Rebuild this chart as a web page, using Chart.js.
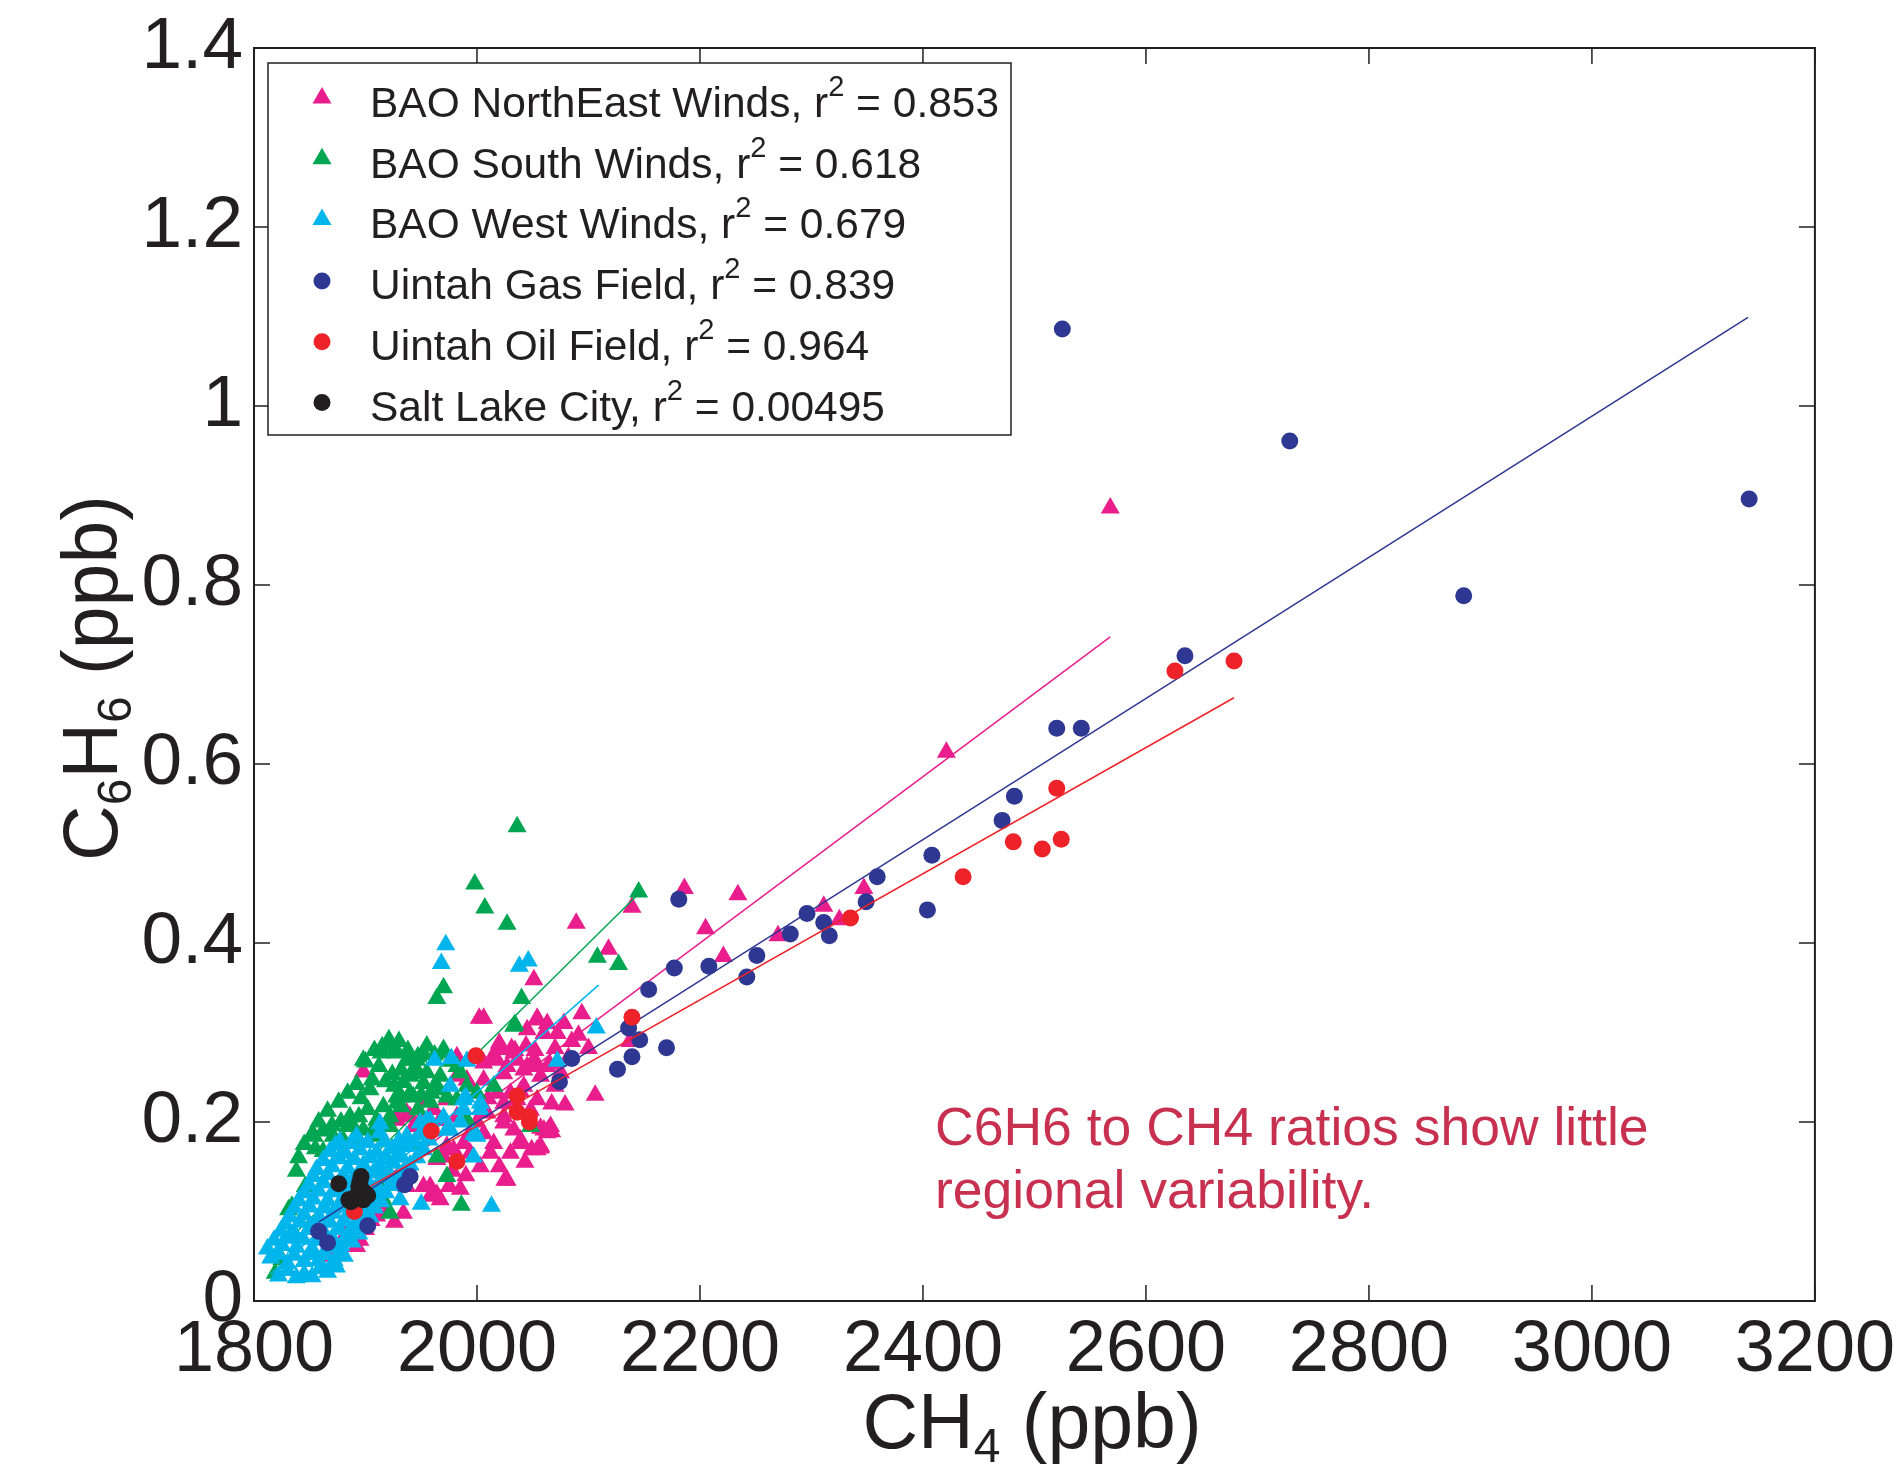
<!DOCTYPE html>
<html>
<head>
<meta charset="utf-8">
<script src="https://cdn.jsdelivr.net/npm/chart.js@4.4.1/dist/chart.umd.min.js"></script>
<style>
  html, body { margin: 0; padding: 0; background: #fff; }
  canvas { display: block; }
</style>
</head>
<body>
<canvas id="chart" width="1896" height="1468"></canvas>
<script>
// Benzene vs methane, one array of [CH4, C6H6] pairs per region (ppb).
const baoNorthEast = [
  [2568,0.886],[2421,0.613],[2186,0.461],[2234,0.454],[2205,0.416],[2270,0.408],[2221,0.385],[2311,0.441],[2347,0.461],[2325,0.426],
  [2139,0.440],[2118,0.393],[2089,0.422],[2051,0.359],[2002,0.316],[2006,0.316],[2054,0.316],[2063,0.310],[2094,0.321],[2091,0.297],
  [2100,0.282],[2137,0.290],[2052,0.280],[2034,0.280],[2020,0.288],[2016,0.271],[2055,0.262],[2079,0.219],[2106,0.230],[2067,0.189],
  [2064,0.191],[2039,0.176],[2057,0.171],[2025,0.135],[1964,0.119],
  [2021,0.281],[2033,0.277],[2018,0.269],[2027,0.262],[2042,0.258],[2051,0.269],[2057,0.251],[2006,0.266],[2006,0.247],[1994,0.240],
  [1982,0.273],[1961,0.214],[1973,0.225],[1967,0.202],[1982,0.206],[1952,0.225],[1940,0.206],[1928,0.206],[1988,0.176],[1979,0.169],
  [1994,0.165],[2006,0.187],[2015,0.176],[2024,0.199],[2033,0.191],[2049,0.169],[2057,0.173],[2060,0.191],[1952,0.128],[1958,0.128],
  [1937,0.128],[1916,0.109],[1895,0.068],[1892,0.061],[1898,0.256],[1964,0.158],[1970,0.161],[1982,0.251],[2030,0.232],[2036,0.225],
  [2054,0.225],[2066,0.195],[2045,0.303],[2054,0.314],[2060,0.299],[2072,0.299],[2015,0.275],[2031,0.282],[2036,0.269],[2045,0.262],
  [2063,0.262],[2024,0.254],[1991,0.247],[2018,0.232],[2024,0.221],[2009,0.210],[2063,0.188],[2054,0.169],[2039,0.180],[2024,0.206],
  [1994,0.188],[1973,0.173],[1949,0.202],[1943,0.195],[1937,0.210],[1928,0.202],[1970,0.202],[2027,0.135],[1880,0.070],[1874,0.060],
  [1905,0.090],[1920,0.100],[1868,0.050],[1884,0.081],[1934,0.098],[1958,0.117],[1967,0.113],[2065,0.265],[2067,0.220],[2039,0.234],
  [2057,0.193],[2010,0.226],[2042,0.240],[2048,0.213],[2070,0.240],[2075,0.255],[2082,0.272],[2070,0.282],[2078,0.310],[2085,0.290],
  [2044,0.285],[2000,0.200],[2012,0.165],[2003,0.150],[1990,0.140],[1978,0.145],[1985,0.125],[1975,0.128],[2043,0.155],[2030,0.165],
  [2020,0.150],[1900,0.080],[1910,0.095],[1926,0.088]
];
const baoSouth = [
  [2036,0.530],[1998,0.466],[2007,0.439],[2027,0.421],[1970,0.350],[1964,0.338],[2040,0.338],[2034,0.309],[2108,0.384],[2127,0.376],
  [2145,0.457],[1819,0.031],[1825,0.046],[1834,0.106],[1846,0.128],[1852,0.186],[1862,0.167],[1871,0.184],[1880,0.180],[1889,0.180],
  [1886,0.206],[1889,0.195],[1898,0.191],[1910,0.184],[1910,0.202],[1916,0.217],[1922,0.206],[1922,0.195],[1932,0.217],[1928,0.228],
  [1940,0.232],[1947,0.214],[1959,0.232],[1973,0.228],[1967,0.251],[1970,0.281],[1952,0.243],[1946,0.258],[1940,0.251],[1937,0.269],
  [1946,0.269],[1924,0.253],[1906,0.247],[1900,0.267],[1914,0.277],[1928,0.277],[1920,0.286],[1921,0.292],[1915,0.284],[1927,0.281],
  [1898,0.269],[1938,0.269],[1947,0.273],[1932,0.258],[1941,0.254],[1970,0.277],[1943,0.228],[1932,0.228],[1928,0.221],[1907,0.191],
  [1940,0.176],[1964,0.161],[1973,0.139],[1913,0.128],[1922,0.098],[1916,0.113],[1907,0.106],[1986,0.107],[1982,0.225],[1991,0.240],
  [2000,0.232],[2015,0.240],[1982,0.262],[1991,0.202],[2048,0.195],[2033,0.307],[1938,0.280],[1952,0.276],[1854,0.184],[1884,0.195],
  [1831,0.102],[1858,0.200],[1866,0.212],[1876,0.222],[1884,0.232],[1892,0.242],[1896,0.226],[1904,0.236],[1912,0.262],[1918,0.245],
  [1926,0.240],[1934,0.244],[1950,0.230],[1955,0.255],[1962,0.240],[1902,0.214],[1894,0.206],[1878,0.200],[1870,0.196],[1862,0.190],
  [1845,0.175],[1840,0.160],[1838,0.145],[1855,0.170],[1908,0.280],[1930,0.290],[1955,0.285],[1962,0.275],[1976,0.268],[1985,0.255],
  [1958,0.222],[1966,0.236]
];
const baoWest = [
  [1822,0.028],[1838,0.026],[1852,0.027],[1866,0.032],[1845,0.030],
  [1830,0.034],[1859,0.036],[1874,0.038],
  [1815,0.048],[1830,0.042],[1845,0.044],[1858,0.045],[1872,0.045],[1881,0.050],
  [1822,0.052],[1836,0.051],[1851,0.052],[1864,0.052],[1877,0.054],
  [1812,0.058],[1825,0.062],[1838,0.060],[1852,0.058],[1866,0.060],[1878,0.062],[1888,0.066],
  [1818,0.068],[1831,0.070],[1844,0.069],[1857,0.068],[1870,0.070],[1883,0.072],[1894,0.075],
  [1824,0.078],[1836,0.076],[1849,0.080],[1862,0.078],[1876,0.080],[1889,0.082],[1898,0.086],
  [1828,0.086],[1841,0.088],[1855,0.087],[1868,0.088],[1881,0.089],[1893,0.091],[1904,0.094],
  [1832,0.094],[1845,0.096],[1858,0.094],[1871,0.098],[1884,0.097],[1897,0.100],[1908,0.104],
  [1836,0.104],[1850,0.105],[1863,0.104],[1877,0.106],[1890,0.107],[1902,0.109],[1914,0.111],
  [1840,0.112],[1853,0.114],[1866,0.112],[1880,0.116],[1893,0.115],[1906,0.118],[1918,0.121],
  [1845,0.121],[1858,0.123],[1871,0.122],[1885,0.125],[1898,0.124],[1911,0.127],[1923,0.129],
  [1849,0.130],[1862,0.132],[1875,0.130],[1888,0.134],[1902,0.133],[1915,0.138],[1928,0.136],
  [1853,0.139],[1866,0.141],[1880,0.140],[1894,0.142],[1907,0.143],[1920,0.145],[1934,0.144],
  [1856,0.147],[1870,0.150],[1884,0.148],[1898,0.152],[1912,0.150],[1925,0.154],[1940,0.152],
  [1862,0.157],[1876,0.159],[1890,0.158],[1904,0.160],[1918,0.161],[1932,0.162],[1946,0.160],
  [1868,0.167],[1882,0.165],[1895,0.169],[1910,0.166],[1924,0.170],[1937,0.173],[1952,0.169],
  [1873,0.174],[1887,0.176],[1902,0.177],[1917,0.178],[1930,0.179],[1944,0.178],[1957,0.180],
  [1877,0.178],[1892,0.184],[1913,0.188],[1937,0.184],[1949,0.186],[1960,0.190],[1976,0.191],
  [1913,0.198],[1949,0.199],[1958,0.201],[1970,0.205],[1985,0.200],[1997,0.186],
  [1962,0.269],[1977,0.271],[1976,0.240],[1988,0.225],[1990,0.228],[2003,0.221],[1988,0.214],[2003,0.214],[1955,0.202],[1973,0.191],
  [2000,0.184],[1997,0.161],[1950,0.108],[2013,0.106],[1972,0.398],[1968,0.377],[2038,0.374],[2046,0.380],[2107,0.305],[2072,0.268],
  [1991,0.268],[1928,0.161],[1934,0.173],[1919,0.158],[1931,0.113],[1907,0.124]
];
const uintahGas = [
  [1858,0.078],[1866,0.065],[1902,0.084],[1935,0.130],[1940,0.139],[2074,0.245],[2085,0.271],[2126,0.259],[2136,0.305],[2139,0.273],
  [2146,0.292],[2154,0.348],[2170,0.283],[2177,0.372],[2181,0.449],[2208,0.374],[2242,0.362],[2251,0.386],[2281,0.410],[2296,0.433],
  [2311,0.423],[2316,0.408],[2349,0.446],[2359,0.474],[2404,0.437],[2408,0.498],[2471,0.537],[2482,0.564],[2520,0.640],[2542,0.640],
  [2525,1.086],[2635,0.721],[2729,0.961],[2885,0.788],[3141,0.896]
];
const uintahOil = [
  [1890,0.100],[1959,0.190],[1982,0.156],[1999,0.274],[2036,0.229],[2036,0.211],[2047,0.206],[2047,0.200],[2139,0.317],[2335,0.428],
  [2436,0.474],[2481,0.513],[2507,0.505],[2524,0.516],[2520,0.573],[2626,0.704],[2679,0.715]
];
const saltLakeCity = [
  [1876,0.131],[1896,0.139],[1887,0.111],[1892,0.117],[1897,0.124],[1900,0.120],[1894,0.128],[1890,0.115],[1898,0.113],[1902,0.118],
  [1885,0.113],[1895,0.133]
];

// Least-squares fit lines, end points as drawn.
const fitNorthEast = [[1860,0.084],[2568,0.742]];
const fitSouth = [[1830,0.067],[2145,0.455]];
const fitWest = [[1815,0.030],[2109,0.353]];
const fitGas = [[1858,0.088],[3140,1.099]];
const fitOil = [[1890,0.118],[2679,0.674]];

const seriesNames = ["BAO NorthEast Winds", "BAO South Winds", "BAO West Winds", "Uintah Gas Field", "Uintah Oil Field", "Salt Lake City"];
const rSquared = ["0.853", "0.618", "0.679", "0.839", "0.964", "0.00495"];
const xTicks = { min: 1800, max: 3200, step: 200 };
const yTicks = { min: 0, max: 1.4, step: 0.2 };
const noteLines = ["C6H6 to CH4 ratios show little", "regional variability."];

const FONT = '"Liberation Sans", Arial, Helvetica, sans-serif';
const INK = "#231f20";
const COLORS = ["#e91e8c", "#00a651", "#00b4ec", "#2e3792", "#ed2329", "#231f20"];
const STYLES = ["triangle", "triangle", "triangle", "circle", "circle", "circle"];
const TICK = 16;

const pts = (arr) => arr.map(([x, y]) => ({ x, y }));

function scatterSet(i, data, order) {
  return {
    label: seriesNames[i],
    data: pts(data),
    order: order,
    pointStyle: STYLES[i],
    pointRadius: STYLES[i] === "triangle" ? 11 : 8.5,
    pointBackgroundColor: COLORS[i],
    pointBorderWidth: 0,
    showLine: false,
  };
}
function fitSet(i, data, order) {
  return {
    label: seriesNames[i] + " fit",
    data: pts(data),
    order: order,
    showLine: true,
    borderColor: COLORS[i],
    borderWidth: 1.5,
    pointRadius: 0,
    fill: false,
  };
}

function runsWidth(ctx, runs) {
  let w = 0;
  runs.forEach((r) => { ctx.font = r.size + "px " + FONT; w += ctx.measureText(r.t).width; });
  return w;
}
function drawRuns(ctx, runs, x, y) {
  runs.forEach((r) => {
    ctx.font = r.size + "px " + FONT;
    ctx.fillText(r.t, x, y + (r.dy || 0));
    x += ctx.measureText(r.t).width;
  });
}

const decor = {
  id: "decor",
  afterDatasetsDraw(chart) {
    const { ctx, chartArea: a } = chart;
    const sx = chart.scales.x, sy = chart.scales.y;
    ctx.save();
    ctx.strokeStyle = INK;
    ctx.lineWidth = 1.5;
    ctx.beginPath();
    sx.ticks.forEach((t) => {
      const px = sx.getPixelForValue(t.value);
      ctx.moveTo(px, a.bottom); ctx.lineTo(px, a.bottom - TICK);
      ctx.moveTo(px, a.top); ctx.lineTo(px, a.top + TICK);
    });
    sy.ticks.forEach((t) => {
      const py = sy.getPixelForValue(t.value);
      ctx.moveTo(a.left, py); ctx.lineTo(a.left + TICK, py);
      ctx.moveTo(a.right, py); ctx.lineTo(a.right - TICK, py);
    });
    ctx.stroke();
    ctx.lineWidth = 2;
    ctx.strokeRect(a.left, a.top, a.right - a.left, a.bottom - a.top);
    ctx.restore();
  },
  afterDraw(chart) {
    const { ctx } = chart;
    ctx.save();
    ctx.textAlign = "left";
    ctx.textBaseline = "alphabetic";

    // legend box
    ctx.fillStyle = "#fff";
    ctx.fillRect(268, 63, 743, 372);
    ctx.strokeStyle = INK;
    ctx.lineWidth = 1.5;
    ctx.strokeRect(268, 63, 743, 372);
    seriesNames.forEach((name, i) => {
      const base = 117 + i * 60.7;
      ctx.fillStyle = COLORS[i];
      const tri = STYLES[i] === "triangle";
      Chart.helpers.drawPoint(ctx, { pointStyle: STYLES[i], radius: tri ? 11 : 8.5, borderWidth: 0, rotation: 0 },
        322, base - (tri ? 19 : 18));
      ctx.fillStyle = INK;
      drawRuns(ctx, [
        { t: name + ", r", size: 42.5 },
        { t: "2", size: 29, dy: -21 },
        { t: " = " + rSquared[i], size: 42.5 },
      ], 370, base);
    });

    // axis titles
    ctx.fillStyle = INK;
    const xt = [{ t: "CH", size: 77 }, { t: "4", size: 48, dy: 14 }, { t: " (ppb)", size: 77 }];
    drawRuns(ctx, xt, 1032 - runsWidth(ctx, xt) / 2, 1448);
    const yt = [{ t: "C", size: 77 }, { t: "6", size: 48, dy: 14 }, { t: "H", size: 77 }, { t: "6", size: 48, dy: 14 }, { t: " (ppb)", size: 77 }];
    ctx.translate(117, 678);
    ctx.rotate(-Math.PI / 2);
    drawRuns(ctx, yt, -runsWidth(ctx, yt) / 2, 0);
    ctx.setTransform(1, 0, 0, 1, 0, 0);

    // annotation
    ctx.fillStyle = "#c8304f";
    ctx.font = "53.5px " + FONT;
    noteLines.forEach((line, i) => ctx.fillText(line, 935, 1145 + i * 63));
    ctx.restore();
  },
};

new Chart(document.getElementById("chart"), {
  type: "scatter",
  data: {
    datasets: [
      scatterSet(0, baoNorthEast, 11), fitSet(0, fitNorthEast, 10),
      scatterSet(1, baoSouth, 9), fitSet(1, fitSouth, 8),
      scatterSet(2, baoWest, 7), fitSet(2, fitWest, 6),
      scatterSet(3, uintahGas, 5), fitSet(3, fitGas, 4),
      scatterSet(4, uintahOil, 3), fitSet(4, fitOil, 2),
      scatterSet(5, saltLakeCity, 1),
    ],
  },
  options: {
    responsive: false,
    animation: false,
    events: [],
    layout: { padding: { left: 0, top: 48, right: 81, bottom: 0 } },
    plugins: { legend: { display: false }, tooltip: { enabled: false } },
    scales: {
      x: {
        type: "linear",
        min: xTicks.min, max: xTicks.max,
        grid: { display: false, drawTicks: false },
        border: { display: false },
        ticks: { stepSize: xTicks.step, autoSkip: false, maxRotation: 0, padding: 1, color: INK,
                 font: { family: FONT, size: 72, lineHeight: 1.356 },
                 callback: (v) => String(v) },
        afterFit: (s) => { s.height = 167; },
      },
      y: {
        type: "linear",
        min: yTicks.min, max: yTicks.max,
        grid: { display: false, drawTicks: false },
        border: { display: false },
        ticks: { stepSize: yTicks.step, autoSkip: false, padding: 11, color: INK,
                 font: { family: FONT, size: 73, lineHeight: 1.0 },
                 callback: (v) => String(Math.round(v * 10) / 10) },
        afterFit: (s) => { s.width = 254; },
      },
    },
  },
  plugins: [decor],
});
</script>
</body>
</html>
